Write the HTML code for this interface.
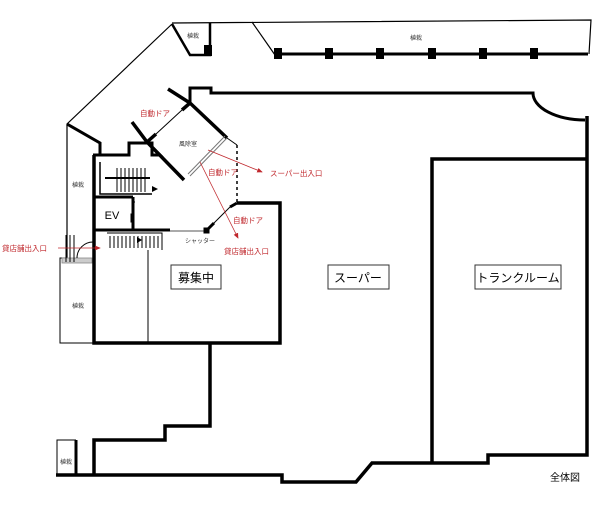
<!DOCTYPE html>
<html><head><meta charset="utf-8"><style>
html,body{margin:0;padding:0;background:#fff;}
svg{display:block;}
text{font-family:"Liberation Sans","Noto Sans CJK JP",sans-serif;}
</style></head><body>
<svg width="600" height="510" viewBox="0 0 600 510" xmlns="http://www.w3.org/2000/svg">
<defs><marker id="ar" markerWidth="8" markerHeight="8" refX="6" refY="4" orient="auto"><path d="M0,1 L7,4 L0,7 Z" fill="#c0282d"/></marker></defs>
<g fill="none" stroke="#000">
<path d="M172,23 L591,20 L589,54" stroke-width="1.2"/>
<path d="M252,22 L275,55" stroke-width="1.2"/>
<path d="M275,54 L588,54" stroke-width="3"/>
<path d="M172,24 L190,55 L210,55 L210,23" stroke-width="2.5"/>
<path d="M172,24 L67,124 L67,258" stroke-width="1.2"/>
<path d="M67,124 L100,143 L100,156" stroke-width="3"/>
<path d="M67,258 L60,258 L60,343 L94,343" stroke-width="1"/>
<rect x="62" y="258" width="30" height="5" fill="#ccc" stroke="#888" stroke-width="0.8"/>
<path d="M93,155 L129,155 L129,143 L152,143 L152,155 L160,155 L148,143" stroke-width="3"/>
<path d="M94,155 L94,343 L280,343 L280,203 L237,203" stroke-width="3.5"/>
<path d="M94,197 L133,197 M133,197 L133,230 M94,230 L170,230" stroke-width="3"/>
<path d="M148,250 L148,343" stroke-width="1"/>
<path d="M100,162 L100,194 L152,194" stroke-width="1.5"/>
<g stroke-width="1">
<path d="M117,168 L117,192 M121,168 L121,192 M125,168 L125,192 M129,168 L129,192 M133,168 L133,192 M137,168 L137,192 M141,168 L141,192 M145,168 L145,192"/>
<path d="M105,178 L150,178" stroke-width="2"/>
<path d="M110,236 L110,248 M114,236 L114,248 M118,236 L118,248 M122,236 L122,248 M126,236 L126,248 M130,236 L130,248 M134,236 L134,248 M138,236 L138,248 M142,236 L142,248 M146,236 L146,248 M150,236 L150,248 M154,236 L154,248 M158,236 L158,248"/>
<path d="M107,233 L162,233 L162,250"/>
<path d="M66,262 L66,235 M70,262 L70,235 M74,262 L74,235"/>
<path d="M77,258 A16,16 0 0 1 93,242"/>
<path d="M135,202 L133,202 L133,214 L131,214 L131,222 L133,222"/>
</g>
<path d="M152,186 L158,189 L152,192 Z M137,237 L142,240 L137,243 Z" fill="#000" stroke="none"/>
<path d="M168,89 L190,103 L227,138 M184,180 L147,142 L132,122" stroke-width="3.5"/>
<path d="M190,103 L190,88 L211,88 L211,93 L533,93 A52,27 0 0 0 585,120" stroke-width="3"/>
<path d="M147,142 L156,134 M182,110 L190,103" stroke-width="3.5"/>
<path d="M156,134 L182,110" stroke-width="1"/>
<path d="M227,138 L190,176 M225,136 L188,174" stroke-width="1" stroke="#777"/>
<path d="M227,138 L237,145" stroke-width="1"/>
<path d="M237,145 L237,203" stroke-width="1.5" stroke-dasharray="3,3"/>
<path d="M207,230 L214,223 M230,207 L237,203" stroke-width="3"/>
<path d="M214,223 L230,207" stroke-width="1"/>
<path d="M170,231 L207,231" stroke-width="1.2" stroke="#777"/>
<rect x="204" y="228" width="5" height="5" fill="#000"/>
<path d="M587,116 L587,455 L488,455 L488,463 L372,463 L356,482 L282,482 L282,475 L56,475" stroke-width="3.5"/>
<path d="M432,463 L432,159 L587,159" stroke-width="3.5"/>
<path d="M210,343 L210,426 L165,426 L165,440 L94,440 L94,475" stroke-width="3.5"/>
<path d="M57,475 L57,440 L76,440" stroke-width="1"/>
<path d="M76,440 L76,475" stroke-width="3"/>
</g>
<g fill="#000">
<rect x="204" y="45" width="8" height="11"/>
<rect x="274" y="48" width="8" height="11"/><rect x="325" y="48" width="8" height="11"/><rect x="376" y="48" width="8" height="11"/><rect x="428" y="48" width="8" height="11"/><rect x="479" y="48" width="8" height="11"/><rect x="530" y="48" width="8" height="11"/>
</g>
<g fill="#fff" stroke="#333" stroke-width="1">
<rect x="171" y="265" width="50" height="24"/><rect x="328" y="265" width="61" height="24"/><rect x="475" y="265" width="86" height="24"/>
</g>
<g font-size="12" text-anchor="middle" fill="#000">
<text x="196" y="282">募集中</text><text x="358" y="282">スーパー</text><text x="518" y="282">トランクルーム</text>
<text x="565" y="481" font-size="10">全体図</text>
<text x="112" y="219" font-size="11">EV</text>
</g>
<g font-size="6" text-anchor="middle" fill="#333">
<text x="193" y="38">植栽</text><text x="416" y="40">植栽</text><text x="78" y="187">植栽</text><text x="78" y="308">植栽</text><text x="66" y="464">植栽</text>
<text x="188" y="146">風除室</text><text x="200" y="243">シャッター</text>
</g>
<g stroke="#c0282d" stroke-width="0.8" fill="none" marker-end="url(#ar)">
<path d="M208,150 L262,172"/><path d="M200,162 L238,238"/><path d="M58,248 L100,248"/>
</g>
<g font-size="7.5" fill="#c0282d">
<text x="140" y="116">自動ドア</text><text x="208" y="175">自動ドア</text><text x="233" y="223">自動ドア</text>
<text x="270" y="176">スーパー出入口</text><text x="224" y="254">貸店舗出入口</text><text x="2" y="251">貸店舗出入口</text>
</g>
</svg>
</body></html>
